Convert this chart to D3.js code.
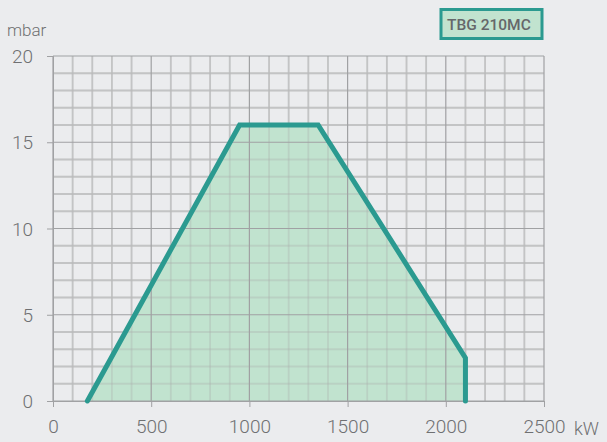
<!DOCTYPE html>
<html><head><meta charset="utf-8">
<script src="https://cdn.jsdelivr.net/npm/d3@7"></script>
<style>body{margin:0;background:#ebecee;}svg{display:block;}</style>
</head><body>
<script>
const powerKW = [175, 950, 1350, 2100, 2100];
const pressureMbar = [0, 16, 16, 2.5, 0];
const xTicks = [0, 500, 1000, 1500, 2000, 2500];
const yTicks = [0, 5, 10, 15, 20];
const modelName = "TBG 210MC";

const W = 607, H = 442;
const svg = d3.select("body").append("svg").attr("width", W).attr("height", H);
svg.append("rect").attr("width", W).attr("height", H).attr("fill", "#ebecee");

const x = d3.scaleLinear().domain([0, 2500]).range([53, 544]);
const y = d3.scaleLinear().domain([0, 20]).range([401, 56]);
const textCol = "#6f7072";
const font = "Roboto, sans-serif";

const g = svg.append("g");
const minorX = d3.range(0, 2501, 100).filter(v => v % 500 !== 0);
const minorY = d3.range(0, 21, 1).filter(v => v % 5 !== 0);
function minorGrid(col, op) {
  minorX.forEach(v => g.append("line").attr("x1", x(v)).attr("x2", x(v)).attr("y1", y(0)).attr("y2", y(20))
    .attr("stroke", col).attr("stroke-opacity", op).attr("stroke-width", 1.8));
  minorY.forEach(v => g.append("line").attr("x1", x(0)).attr("x2", x(2500)).attr("y1", y(v)).attr("y2", y(v))
    .attr("stroke", col).attr("stroke-opacity", op).attr("stroke-width", 1.8));
}
minorGrid("#cfd0d1", 1);

// area
const pts = powerKW.map((p, i) => [p, pressureMbar[i]]);
const area = d3.area().x(d => x(d[0])).y0(y(0)).y1(d => y(d[1]));
g.append("path").attr("d", area(pts)).attr("fill", "#c1e3cf");

minorGrid("#a8aaa8", 0.3);

// major grid
xTicks.forEach(v => g.append("line").attr("x1", x(v)).attr("x2", x(v)).attr("y1", y(0)).attr("y2", y(20))
  .attr("stroke", "#a0a1a3").attr("stroke-width", 1.2));
yTicks.forEach(v => g.append("line").attr("x1", x(0)).attr("x2", x(2500)).attr("y1", y(v)).attr("y2", y(v))
  .attr("stroke", "#a0a1a3").attr("stroke-width", 1.2));

// axes
const xAxis = d3.axisBottom(x).tickValues(xTicks).tickSize(6).tickPadding(13).tickFormat(d3.format("d"));
const yAxis = d3.axisLeft(y).tickValues(yTicks).tickSize(6).tickPadding(14);
const xa = svg.append("g").attr("transform", `translate(0,${y(0)})`).call(xAxis);
const ya = svg.append("g").attr("transform", `translate(${x(0)},0)`).call(yAxis);
[xa, ya].forEach(a => {
  a.select(".domain").attr("stroke", "#a0a1a3");
  a.selectAll(".tick line").attr("stroke", "#a0a1a3");
  a.selectAll("text").attr("fill", textCol).style("font-family", font).style("font-size", "19px").style("font-weight", 300);
});
ya.selectAll("text").attr("dy", "0.35em");

// line
const line = d3.line().x(d => x(d[0])).y(d => y(d[1]));
svg.append("path").attr("d", line(pts)).attr("fill", "none").attr("stroke", "#2b9a90")
  .attr("stroke-width", 5).attr("stroke-linejoin", "miter").attr("stroke-linecap", "round");

// unit labels
svg.append("text").attr("x", 7).attr("y", 36).text("mbar").attr("fill", textCol)
  .style("font-family", font).style("font-size", "17px").style("font-weight", 300);
svg.append("text").attr("x", 574).attr("y", 435).text("kW").attr("fill", textCol)
  .style("font-family", font).style("font-size", "18px").style("font-weight", 300);

// legend box
svg.append("rect").attr("x", 441).attr("y", 9.5).attr("width", 101).attr("height", 29)
  .attr("fill", "#c1e3cf").attr("stroke", "#2b9a90").attr("stroke-width", 3);
svg.append("text").attr("x", 447).attr("y", 30).text(modelName).attr("fill", "#66676a")
  .style("font-family", font).style("font-size", "15.5px").style("font-weight", 500);
</script>
</body></html>
